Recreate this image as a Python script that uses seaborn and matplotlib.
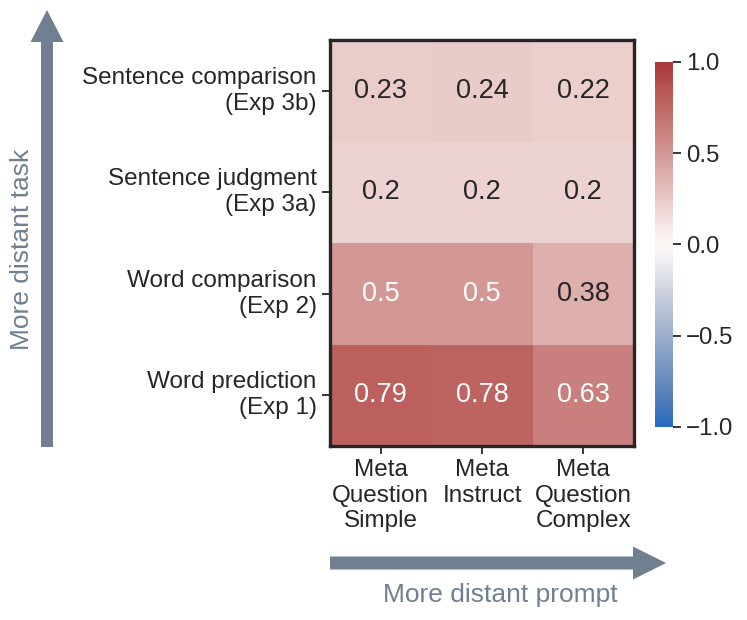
import numpy as np
import pandas as pd
import seaborn as sns
import matplotlib.pyplot as plt
from matplotlib.patches import FancyArrow
from matplotlib.transforms import IdentityTransform

# dados
tasks = ["Sentence comparison\n(Exp 3b)", "Sentence judgment\n(Exp 3a)",
         "Word comparison\n(Exp 2)", "Word prediction\n(Exp 1)"]
prompts = ["Meta\nQuestion\nSimple", "Meta\nInstruct", "Meta\nQuestion\nComplex"]
exp3b = [0.23, 0.24, 0.22]
exp3a = [0.20, 0.20, 0.20]
exp2 = [0.50, 0.50, 0.38]
exp1 = [0.79, 0.78, 0.63]

df = pd.DataFrame([exp3b, exp3a, exp2, exp1], index=tasks, columns=prompts)

sns.set_theme(style="ticks")
plt.rcParams['font.family'] = ['Liberation Sans', 'DejaVu Sans']
plt.rcParams['text.color'] = '#262626'
plt.rcParams['xtick.color'] = '#262626'
plt.rcParams['ytick.color'] = '#262626'

fig = plt.figure(figsize=(7.47, 6.2), dpi=100)
ax = fig.add_axes([0.4418, 0.2806, 0.4069, 0.6548])
cax = fig.add_axes([0.8768, 0.3113, 0.0241, 0.5887])

sns.heatmap(df, ax=ax, cbar_ax=cax, cmap="vlag", vmin=-1, vmax=1, center=0,
            annot=True, annot_kws={"fontsize": 19.5})

fs = 17.5
ax.tick_params(axis='both', length=6, width=1.3)
ax.set_yticklabels(ax.get_yticklabels(), rotation=0, ha='right', fontsize=fs,
                   linespacing=1.25)
ax.set_xticklabels(ax.get_xticklabels(), rotation=0, fontsize=fs,
                   linespacing=1.2)
for s in ax.spines.values():
    s.set_visible(True)
    s.set_linewidth(2.4)
    s.set_color('#262626')

cax.tick_params(labelsize=17.3, length=6, width=1.3)
cax.set_yticks([-1, -0.5, 0, 0.5, 1])
cax.set_yticklabels(['\u22121.0', '\u22120.5', '0.0', '0.5', '1.0'])

# setas (coordenadas em pixels, origem embaixo)
cor = '#708090'
H = 620
fig.add_artist(FancyArrow(47, H - 447, 0, 437, width=12, head_width=33,
                          head_length=32, length_includes_head=True,
                          color=cor, transform=IdentityTransform(), lw=0))
fig.add_artist(FancyArrow(330, H - 563, 336, 0, width=13, head_width=33,
                          head_length=33, length_includes_head=True,
                          color=cor, transform=IdentityTransform(), lw=0))
fig.text(22 / 747, 1 - 249 / H, "More distant task", rotation=90, color=cor,
         fontsize=19, ha='center', va='center')
fig.text(500 / 747, 1 - 595 / H, "More distant prompt", color=cor,
         fontsize=19, ha='center', va='center')

fig.savefig("out.png", dpi=100)
